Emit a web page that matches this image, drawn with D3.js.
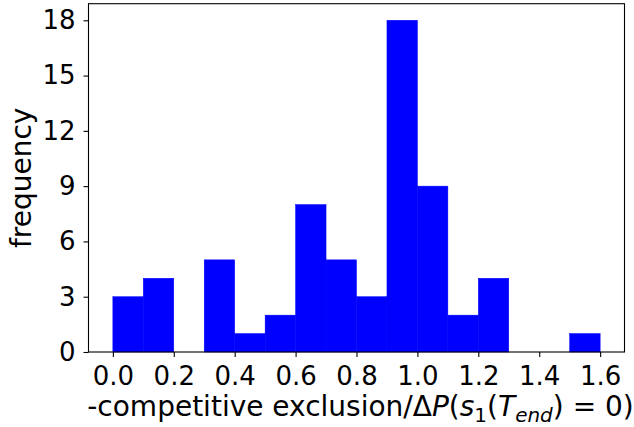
<!DOCTYPE html>
<html>
<head>
<meta charset="utf-8">
<script src="https://d3js.org/d3.v7.min.js"></script>
<style>
  body { margin: 0; background: #fff; }
  text { font-family: "DejaVu Sans", sans-serif; fill: #000; }
</style>
</head>
<body>
<div id="chart"></div>
<script>
// histogram bins (left edges), width 0.1
const binStarts = [0.0, 0.1, 0.2, 0.3, 0.4, 0.5, 0.6, 0.7, 0.8, 0.9, 1.0, 1.1, 1.2, 1.3, 1.4, 1.5];
const counts    = [3, 4, 0, 5, 1, 2, 8, 5, 3, 18, 9, 2, 4, 0, 0, 1];
const binWidth = 0.1;
const xTicks = [0.0, 0.2, 0.4, 0.6, 0.8, 1.0, 1.2, 1.4, 1.6];
const yTicks = [0, 3, 6, 9, 12, 15, 18];

const width = 634, height = 427;
const margin = {top: 3.7, right: 9.5, bottom: 75, left: 88.5};

const svg = d3.select("#chart").append("svg")
  .attr("width", width)
  .attr("height", height);

const x = d3.scaleLinear()
  .domain([-0.08, 1.68])
  .range([margin.left, width - margin.right]);
const y = d3.scaleLinear()
  .domain([0, 18.9])
  .range([352, margin.top]);

svg.selectAll("rect.bar")
  .data(binStarts)
  .enter()
  .append("rect")
  .attr("class", "bar")
  .attr("x", d => x(d))
  .attr("width", d => x(d + binWidth) - x(d))
  .attr("y", (d, i) => y(counts[i]))
  .attr("height", (d, i) => y(0) - y(counts[i]))
  .attr("fill", "#0000ff")
  .attr("stroke", "#0000ff")
  .attr("stroke-width", 0.5);

// frame
svg.append("rect")
  .attr("x", x(-0.08))
  .attr("y", y(18.9))
  .attr("width", x(1.68) - x(-0.08))
  .attr("height", y(0) - y(18.9))
  .attr("fill", "none")
  .attr("stroke", "#000")
  .attr("stroke-width", 1.1);

const xAxis = svg.append("g")
  .attr("transform", "translate(0," + y(0) + ")")
  .call(d3.axisBottom(x).tickValues(xTicks).tickFormat(d3.format(".1f")).tickSize(5).tickPadding(10));
const yAxis = svg.append("g")
  .attr("transform", "translate(" + x(-0.08) + ",0)")
  .call(d3.axisLeft(y).tickValues(yTicks).tickSize(5).tickPadding(8));

[xAxis, yAxis].forEach(g => {
  g.select(".domain").remove();
  g.selectAll("line").attr("stroke", "#000").attr("stroke-width", 1.1);
  g.selectAll("text").style("font-size", "26px").style("font-family", "DejaVu Sans");
});

svg.append("text")
  .attr("transform", "translate(31," + ((y(0) + y(18.9)) / 2) + ") rotate(-90)")
  .attr("text-anchor", "middle")
  .style("font-size", "28px")
  .text("frequency");

const xl = svg.append("text")
  .attr("x", (x(-0.08) + x(1.68)) / 2 + 4)
  .attr("y", 416)
  .attr("text-anchor", "middle")
  .style("font-size", "28px");
xl.append("tspan").text("-competitive exclusion/\u0394");
xl.append("tspan").style("font-style", "italic").text("P");
xl.append("tspan").text("(");
xl.append("tspan").style("font-style", "italic").text("s");
xl.append("tspan").attr("dy", 6).style("font-size", "20px").text("1");
xl.append("tspan").attr("dy", -6).text("(");
xl.append("tspan").style("font-style", "italic").text("T");
xl.append("tspan").attr("dy", 6).style("font-size", "20px").style("font-style", "italic").text("end");
xl.append("tspan").attr("dy", -6).text(") = 0)");
</script>
</body>
</html>
